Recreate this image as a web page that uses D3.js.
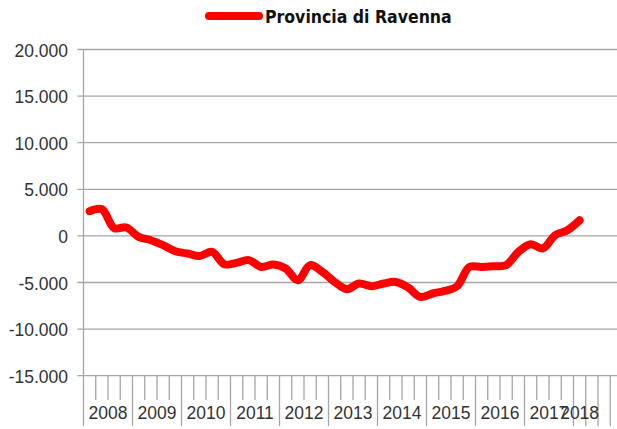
<!DOCTYPE html>
<html>
<head>
<meta charset="utf-8">
<script src="https://cdn.jsdelivr.net/npm/d3@7"></script>
<style>
  body { margin: 0; background: #fff; }
  svg { display: block; }
</style>
</head>
<body>
<svg id="chart" width="617" height="429"></svg>
<script>
// year groups on the category axis (quarters per year), then 3 empty slots
let yearLabels = ['2008','2009','2010','2011','2012','2013','2014','2015','2016','2017','2018','','','']
let quartersPerYear = [4,4,4,4,4,4,4,4,4,4,1,1,1,1]
let seriesName = 'Provincia di Ravenna'
// quarterly values, 2008 Q1 .. 2018 Q1
let values = [2650,2860,830,900,-100,-460,-1000,-1640,-1890,-2150,
              -1720,-3040,-2900,-2600,-3330,-3070,-3500,-4750,-3140,-3860,
              -4940,-5720,-5110,-5400,-5110,-4940,-5540,-6550,-6180,-5900,
              -5400,-3330,-3330,-3250,-3140,-1720,-890,-1350,75,610,1680]
let yTicks = [-15000,-10000,-5000,0,5000,10000,15000,20000]

let svg = d3.select('#chart')
let plotLeft = 83.5, plotTop = 49.5, plotBottom = 375.7
let nCats = d3.sum(quartersPerYear)
let slot = 12.25

let x = d3.scaleBand()
  .domain(d3.range(nCats))
  .range([plotLeft, plotLeft + nCats * slot])
let y = d3.scaleLinear().domain([-15000, 20000]).range([plotBottom, plotTop])

// italian style thousands, plain hyphen for minus
let itLocale = d3.formatLocale({decimal: ',', thousands: '.', grouping: [3], currency: ['', '€'], minus: '-'})
let fmt = itLocale.format(',')

// gridlines
svg.append('g').selectAll('line')
  .data(yTicks)
  .enter().append('line')
  .attr('x1', plotLeft - 6).attr('x2', 617)
  .attr('y1', d => y(d)).attr('y2', d => y(d))
  .attr('stroke', '#a6a6a6').attr('stroke-width', 1.3)

// y labels
svg.append('g').selectAll('text')
  .data(yTicks)
  .enter().append('text')
  .attr('x', 68).attr('y', d => y(d) + 7)
  .attr('text-anchor', 'end')
  .attr('font-family', 'Liberation Sans, Arial, sans-serif')
  .attr('font-size', '17.5px')
  .attr('fill', '#333')
  .text(d => fmt(d))

// left axis line
svg.append('line')
  .attr('x1', plotLeft).attr('x2', plotLeft)
  .attr('y1', plotTop).attr('y2', 426)
  .attr('stroke', '#a6a6a6').attr('stroke-width', 1.3)

// category ticks: short between quarters, long between year groups
let groupStarts = []
let acc = 0
quartersPerYear.forEach(q => { groupStarts.push(acc); acc += q })
let groupSet = new Set(groupStarts.concat([nCats]))

svg.append('g').selectAll('line')
  .data(d3.range(1, nCats + 1))
  .enter().append('line')
  .attr('x1', i => plotLeft + i * slot).attr('x2', i => plotLeft + i * slot)
  .attr('y1', plotBottom).attr('y2', i => groupSet.has(i) ? 426 : 400)
  .attr('stroke', '#a6a6a6').attr('stroke-width', 1.3)

// year labels centred on their group
svg.append('g').selectAll('text')
  .data(yearLabels)
  .enter().append('text')
  .attr('x', (d, i) => plotLeft + (groupStarts[i] + quartersPerYear[i] / 2) * slot)
  .attr('y', 419)
  .attr('text-anchor', 'middle')
  .attr('font-family', 'Liberation Sans, Arial, sans-serif')
  .attr('font-size', '17.5px')
  .attr('fill', '#333')
  .text(d => d)

// the series
let line = d3.line()
  .x((d, i) => x(i) + x.bandwidth() / 2)
  .y(d => y(d))
  .curve(d3.curveCatmullRom.alpha(0.5))

svg.append('path')
  .datum(values)
  .attr('d', line)
  .attr('fill', 'none')
  .attr('stroke', '#ff0000')
  .attr('stroke-width', 8)
  .attr('stroke-linecap', 'round')
  .attr('stroke-linejoin', 'round')

// legend
let legend = svg.append('g')
legend.append('line')
  .attr('x1', 209).attr('x2', 259)
  .attr('y1', 16).attr('y2', 16)
  .attr('stroke', '#ff0000').attr('stroke-width', 8)
  .attr('stroke-linecap', 'round')
legend.append('text')
  .attr('x', 265).attr('y', 22.5)
  .attr('font-family', 'DejaVu Sans Condensed, DejaVu Sans, sans-serif')
  .attr('font-weight', 'bold')
  .attr('font-size', '17.5px')
  .attr('fill', '#111')
  .text(seriesName)
</script>
</body>
</html>
